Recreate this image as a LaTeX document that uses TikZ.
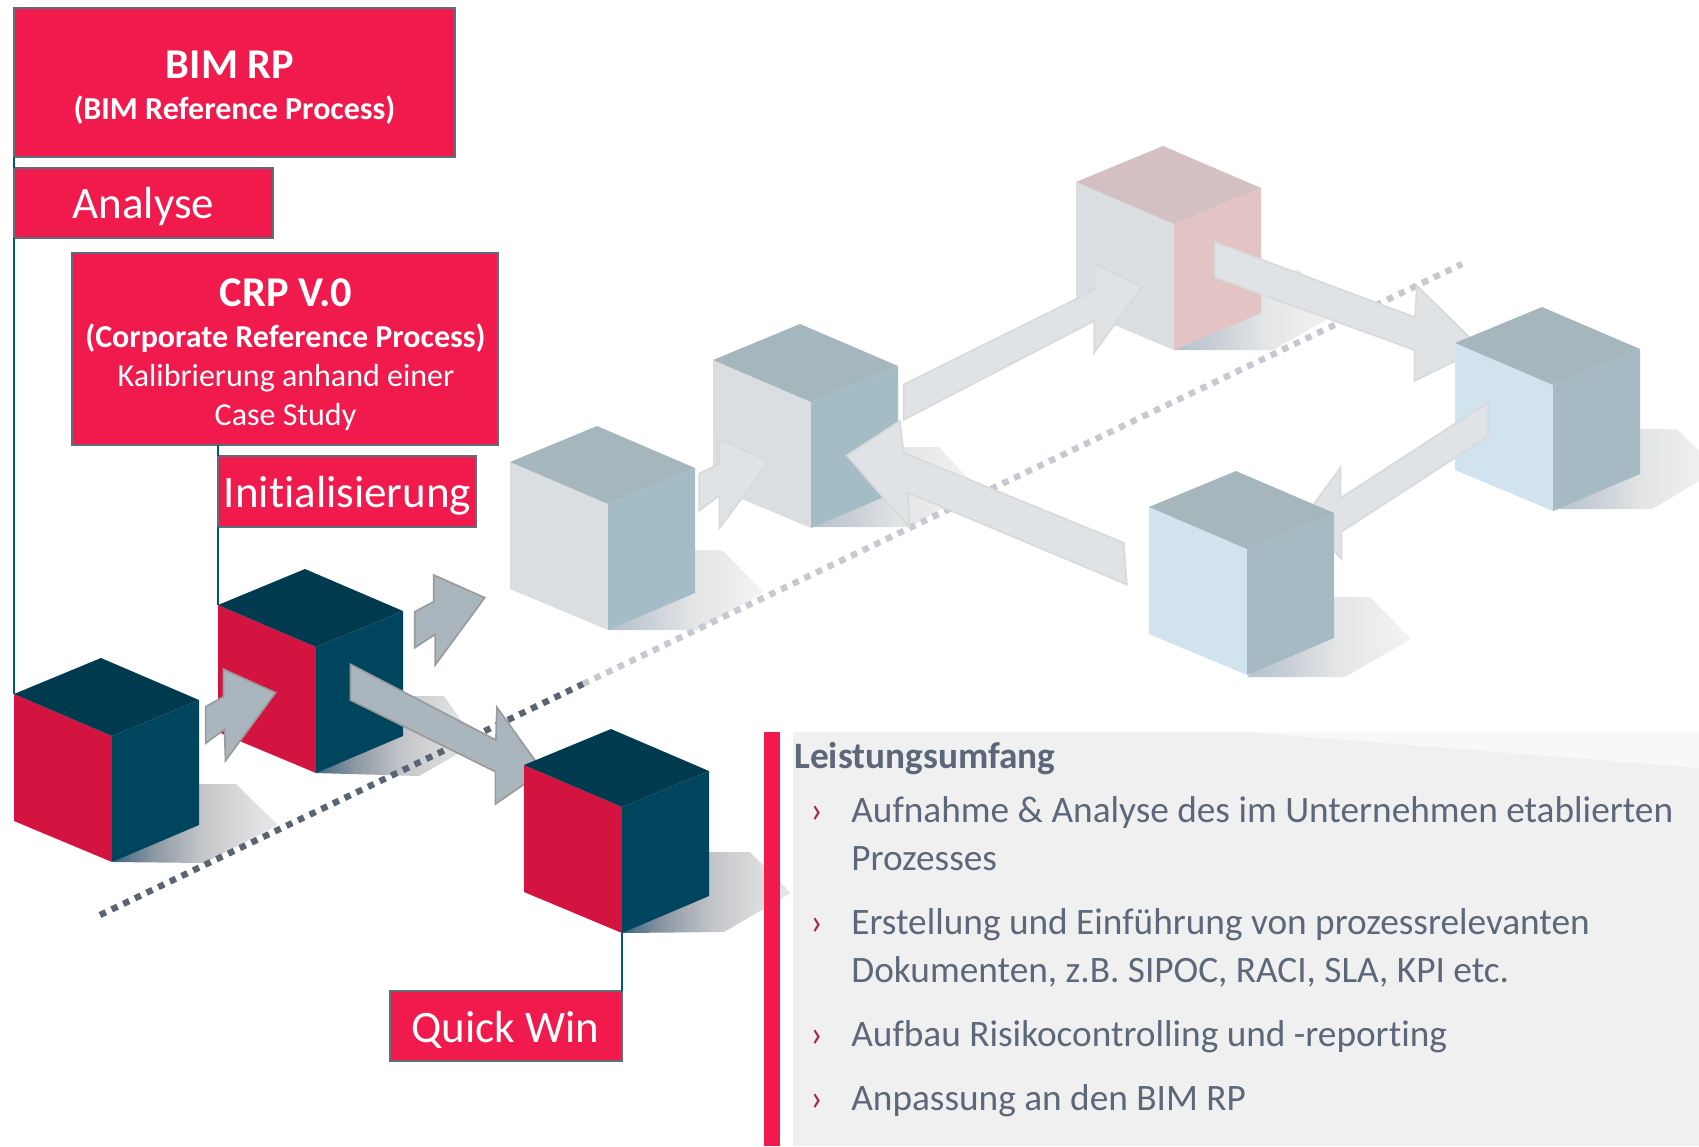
\documentclass[tikz,border=0pt]{standalone}
\usepackage{fontspec}
\setmainfont{Carlito}[RawFeature={-liga}]
\usetikzlibrary{fit}
\definecolor{brandred}{HTML}{F01A4D}
\definecolor{boxedge}{HTML}{5F6E7C}
\definecolor{linkteal}{HTML}{00587C}
\definecolor{solidL}{HTML}{D31440}
\definecolor{solidR}{HTML}{00455E}
\definecolor{solidT}{HTML}{003A4F}
\definecolor{ghostL}{HTML}{DADEE1}
\definecolor{ghostR}{HTML}{A4BCC6}
\definecolor{ghostT}{HTML}{A5B6BD}
\definecolor{pinkR}{HTML}{E3C3C4}
\definecolor{pinkT}{HTML}{D4BFC2}
\definecolor{blueL}{HTML}{D0E3EF}
\definecolor{blueR}{HTML}{A5BAC3}
\definecolor{arrowfill}{HTML}{A9B6BE}
\definecolor{arrowedge}{HTML}{9A9A9A}
\definecolor{garrowfill}{HTML}{E0E3E6}
\definecolor{garrowedge}{HTML}{D8D9DA}
\definecolor{dotdark}{HTML}{5A6472}
\definecolor{dotlight}{HTML}{C6CAD0}
\definecolor{panelgray}{HTML}{F0F0F1}
\definecolor{panellight}{HTML}{F8F8F8}
\definecolor{bodytext}{HTML}{5C6879}
\definecolor{bulletred}{HTML}{A8294F}
\definecolor{shA}{HTML}{3D6480}
\definecolor{shB}{HTML}{8C97A3}
\definecolor{shC}{HTML}{C4C6C9}
\definecolor{shD}{HTML}{DFE0E1}
\definecolor{shE}{HTML}{E6E7E8}
\definecolor{ghA}{HTML}{B3C2CF}
\definecolor{ghB}{HTML}{C8CED5}
\definecolor{ghC}{HTML}{E3E5E6}
\definecolor{ghD}{HTML}{F3F3F3}
\pgfdeclarehorizontalshading{shadowsolid}{100bp}{color(0bp)=(shA); color(25bp)=(shA); color(37bp)=(shB); color(52bp)=(shC); color(68bp)=(shD); color(75bp)=(shE); color(100bp)=(shE)}
\pgfdeclarehorizontalshading{shadowghost}{100bp}{color(0bp)=(ghA); color(25bp)=(ghA); color(37bp)=(ghB); color(52bp)=(ghC); color(75bp)=(ghD); color(100bp)=(ghD)}
\newcommand\tfs[1]{\fontsize{\fpeval{#1*0.6}}{\fpeval{#1*0.72}}\selectfont}
\newcommand\isocube[6]{%
  \begin{scope}[shift={(#2,#3)}]
    \coordinate (#1L) at (0,0);
    \coordinate (#1A) at (87,-36);
    \coordinate (#1R) at (185,6);
    \coordinate (#1C) at (98,42);
    \coordinate (#1BL) at (0,127);
    \coordinate (#1BC) at (98,168);
    \coordinate (#1BR) at (185,131);
    \fill[#4] (#1L) -- (#1C) -- (#1BC) -- (#1BL) -- cycle;
    \fill[#5] (#1C) -- (#1R) -- (#1BR) -- (#1BC) -- cycle;
    \fill[#6] (#1L) -- (#1A) -- (#1R) -- (#1C) -- cycle;
  \end{scope}}
\newcommand\boxat[5]{%
  \coordinate (#1a) at (#2,#3);
  \coordinate (#1b) at (#4,#5);
  \node[redbox,fit=(#1a)(#1b)] (#1) {};}
\tikzset{
  redbox/.style={draw=boxedge,fill=brandred,line width=1.7pt,inner sep=0pt,outer sep=0pt},
  link/.style={draw=linkteal,line width=1.7pt},
  solidarrow/.style={fill=arrowfill,draw=arrowedge,line width=1pt,line join=miter},
  ghostarrow/.style={fill=garrowfill,draw=garrowedge,line width=1pt,line join=miter},
  dottrail/.style={line width=3.8pt,dash pattern=on 3.9pt off 3.85pt},
  boxtext/.style={text=white,anchor=base,inner sep=0pt},
  paneltext/.style={text=bodytext,anchor=base west,inner sep=0pt,font=\tfs{37.3}},
  bulletmark/.style={text=bulletred,anchor=base west,inner sep=0pt,font=\tfs{37.3}}
}
\begin{document}
\begin{tikzpicture}[x=0.6pt,y=-0.6pt]
\useasboundingbox (0,0) rectangle (1699,1146);
% shadows
\path[shading=shadowsolid] (113,862) -- (204,863) -- (278,825) -- (236,784) -- (198,784) -- cycle;
\path[shading=shadowsolid] (315,773) -- (419,776) -- (477,743) -- (444,696) -- (402,696) -- cycle;
\path[shading=shadowsolid] (622,933) -- (724,932) -- (791,893) -- (750,852) -- (708,852) -- cycle;
\path[shading=shadowghost] (608,630) -- (698,630) -- (764,592) -- (722,550) -- (694,550) -- cycle;
\path[shading=shadowghost] (811,527) -- (910,527) -- (977,488) -- (939,447) -- (897,447) -- cycle;
\path[shading=shadowghost] (1174,350) -- (1273,350) -- (1340,312) -- (1299,270) -- (1260,270) -- cycle;
\path[shading=shadowghost] (1553,509) -- (1652,509) -- (1718,470) -- (1677,429) -- (1639,429) -- cycle;
\path[shading=shadowghost] (1247,677) -- (1345,677) -- (1411,639) -- (1370,597) -- (1333,597) -- cycle;
% dotted trail
\coordinate (dotA) at (100,915);
\coordinate (dotM) at (583,684);
\coordinate (dotB) at (1462,264);
\draw[dottrail,dotlight] (dotM) -- (dotB);
\draw[dottrail,dotdark] (dotA) -- (dotM);
% information panel
\fill[panelgray] (793,732) rectangle (1699,1146);
\fill[panellight] (1246,732) -- (1699,768) -- (1699,732) -- cycle;
\fill[brandred] (764,732) rectangle (780,1146);
% ghost cubes
\isocube{gd}{510}{462}{ghostL}{ghostR}{ghostT}
\isocube{ge}{713}{360}{ghostL}{ghostR}{ghostT}
\isocube{gf}{1076}{182}{ghostL}{pinkR}{pinkT}
% ghost arrows
\draw[ghostarrow] (699.2,473.6) -- (719.4,463.8) -- (719.4,439.1) -- (769.2,461.6) -- (719.4,528.2) -- (719.4,495.5) -- (699.2,510.7) -- cycle;
\draw[ghostarrow] (903.7,384.5) -- (1094.2,290) -- (1094.2,263.8) -- (1142.4,286.4) -- (1094.2,352.5) -- (1094.2,320.9) -- (903.7,419.8) -- cycle;
\draw[ghostarrow] (1214.7,242) -- (1415.2,317.3) -- (1416.8,285.6) -- (1480.9,348.5) -- (1414.5,380.9) -- (1414.5,350) -- (1214.7,277.3) -- cycle;
\isocube{gg}{1455}{343}{blueL}{blueR}{ghostT}
\draw[ghostarrow] (1488.3,402) -- (1340.6,498) -- (1340.6,467.5) -- (1304,517.3) -- (1341.4,559) -- (1341.4,531.8) -- (1488.3,436.2) -- cycle;
\isocube{gh}{1149}{507}{blueL}{blueR}{ghostT}
\draw[ghostarrow] (1123.7,542.7) -- (903.7,452.9) -- (899.8,420.9) -- (846.9,455.5) -- (909.9,528.2) -- (907.6,492.5) -- (1126.8,584.5) -- cycle;
% solid cubes and arrows
\isocube{sa}{14}{694}{solidL}{solidR}{solidT}
\isocube{sb}{218}{605}{solidL}{solidR}{solidT}
\draw[solidarrow] (205.6,706.7) -- (223.5,696.7) -- (223.5,669.3) -- (275.5,692.7) -- (225.5,760.7) -- (224.5,729.3) -- (205.6,743.3) -- cycle;
\draw[solidarrow] (414.8,611.7) -- (433.7,601.7) -- (433.7,575) -- (484.7,597.7) -- (435.2,665) -- (435.2,634.3) -- (414.8,647.7) -- cycle;
\draw[solidarrow] (350.5,664.3) -- (495.9,740) -- (496.9,707.3) -- (542.9,771.3) -- (495.4,804) -- (495.4,771.7) -- (350.5,700) -- cycle;
\isocube{sc}{524}{765}{solidL}{solidR}{solidT}
% label boxes
\boxat{bim}{14}{8}{455}{157}
\boxat{ana}{14}{168}{273}{238}
\boxat{crp}{72}{253}{498}{445}
\boxat{ini}{218}{456}{476}{527}
\boxat{qwi}{390}{991}{622}{1061}
% connectors
\draw[link] (bim.south west) -- (ana.north west);
\draw[link] (ana.south west) -- (saL);
\draw[link] (crp.south -| ini.north west) -- (ini.north west);
\draw[link] (ini.south west) -- (sbL);
\draw[link] (scBC) -- (qwi.north east);
% box texts
\node[boxtext,font=\tfs{42.4}\bfseries] (t1) at (230,78.5) {BIM RP};
\node[boxtext,font=\tfs{32}\bfseries] (t2) at (234.5,119.5) {(BIM Reference Process)};
\node[boxtext,font=\tfs{45}] (t3) at (143.5,218.5) {Analyse};
\node[boxtext,font=\tfs{42.4}\bfseries] (t4) at (286,306.5) {CRP V.0};
\node[boxtext,font=\tfs{32}\bfseries] (t5) at (285.5,347.5) {(Corporate Reference Process)};
\node[boxtext,font=\tfs{32}] (t6) at (286,386.5) {Kalibrierung anhand einer};
\node[boxtext,font=\tfs{32}] (t7) at (285.5,425) {Case Study};
\node[boxtext,font=\tfs{45}] (t8) at (347.5,507.5) {Initialisierung};
\node[boxtext,font=\tfs{45}] (t9) at (505.5,1042) {Quick Win};
% panel text
\node[paneltext,font=\tfs{37.3}\bfseries] (h1) at (794,768) {Leistungsumfang};
\node[bulletmark] (b1) at (810,822) {›};
\node[paneltext] (p1) at (851,822) {Aufnahme \& Analyse des im Unternehmen etablierten};
\node[paneltext] (p2) at (851,870) {Prozesses};
\node[bulletmark] (b2) at (810,934.5) {›};
\node[paneltext] (p3) at (851,934.5) {Erstellung und Einführung von prozessrelevanten};
\node[paneltext] (p4) at (851,982.5) {Dokumenten, z.B. SIPOC, RACI, SLA, KPI etc.};
\node[bulletmark] (b3) at (810,1046.5) {›};
\node[paneltext] (p5) at (851,1046.5) {Aufbau Risikocontrolling und -reporting};
\node[bulletmark] (b4) at (810,1110.5) {›};
\node[paneltext] (p6) at (851,1110.5) {Anpassung an den BIM RP};
\end{tikzpicture}
\end{document}
